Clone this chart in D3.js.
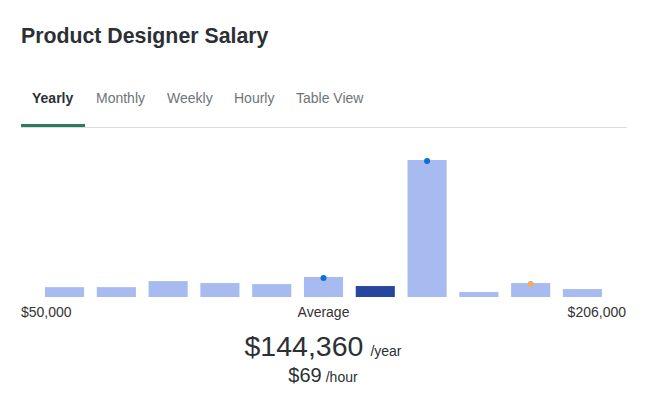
<!DOCTYPE html>
<html>
<head>
<meta charset="utf-8">
<script src="https://cdn.jsdelivr.net/npm/d3@7"></script>
<style>
  body { margin: 0; background: #fff; font-family: "Liberation Sans", Arial, sans-serif; }
</style>
</head>
<body>
<svg id="chart"></svg>
<script>
// salary bins (yearly), share of reports per bin
var bins = ["$50K", "$64K", "$78K", "$93K", "$107K", "$121K", "$135K", "$149K", "$163K", "$178K", "$192K"];
var shares = [3.6, 3.6, 5.8, 5.1, 4.7, 7.3, 4.0, 50, 1.8, 5.1, 2.9];
var avgBin = "$135K";
var markerBins = ["$121K", "$149K", "$178K"];
var markerColors = ["#0a6fd6", "#0a6fd6", "#f4a95b"];
var tabs = ["Yearly", "Monthly", "Weekly", "Hourly", "Table View"];
var tabX = [32, 96, 167, 234, 296];

var width = 651, height = 394;
var svg = d3.select("#chart")
  .attr("width", width)
  .attr("height", height);

svg.append("text")
  .attr("x", 21).attr("y", 43)
  .attr("font-size", 21.3).attr("font-weight", "bold")
  .attr("fill", "#2b3035")
  .text("Product Designer Salary");

// tabs
svg.selectAll(".tab")
  .data(tabs)
  .join("text")
    .attr("class", "tab")
    .attr("x", (d, i) => tabX[i]).attr("y", 103)
    .attr("font-size", 14)
    .attr("font-weight", (d, i) => i == 0 ? "bold" : "normal")
    .attr("fill", (d, i) => i == 0 ? "#2b3035" : "#6f7479")
    .text(d => d);

svg.append("line")
  .attr("x1", 21).attr("x2", 627).attr("y1", 127.5).attr("y2", 127.5)
  .attr("stroke", "#dcdcdc").attr("stroke-width", 1);
svg.append("rect")
  .attr("x", 21).attr("y", 124).attr("width", 64).attr("height", 3)
  .attr("fill", "#2d7a5e");

var x = d3.scaleBand()
  .domain(bins)
  .range([45, 602])
  .paddingInner(0.245)
  .paddingOuter(0);

var y = d3.scaleLinear()
  .domain([0, 50])
  .range([297, 160]);

svg.append("g")
  .selectAll("rect")
  .data(bins)
  .join("rect")
    .attr("x", d => x(d))
    .attr("y", (d, i) => y(shares[i]))
    .attr("width", x.bandwidth())
    .attr("height", (d, i) => y(0) - y(shares[i]))
    .attr("fill", d => d == avgBin ? "#27479e" : "#a8bbf0");

svg.append("g")
  .selectAll("circle")
  .data(markerBins)
  .join("circle")
    .attr("cx", d => x(d) + x.bandwidth() / 2)
    .attr("cy", d => y(shares[bins.indexOf(d)]) + 1)
    .attr("r", 3)
    .attr("fill", (d, i) => markerColors[i]);

// axis labels
svg.append("text")
  .attr("x", 21).attr("y", 317)
  .attr("font-size", 14).attr("fill", "#333")
  .text("$50,000");
svg.append("text")
  .attr("x", x("$121K") + x.bandwidth() / 2).attr("y", 317)
  .attr("text-anchor", "middle")
  .attr("font-size", 14).attr("fill", "#333")
  .text("Average");
svg.append("text")
  .attr("x", 626).attr("y", 317)
  .attr("text-anchor", "end")
  .attr("font-size", 14).attr("fill", "#333")
  .text("$206,000");

// average figures
var big = svg.append("text")
  .attr("x", 323).attr("y", 356)
  .attr("text-anchor", "middle")
  .attr("fill", "#2b3035");
big.append("tspan").attr("font-size", 28.5).text("$144,360");
big.append("tspan").attr("font-size", 14).attr("dx", 7).text("/year");

var small = svg.append("text")
  .attr("x", 323).attr("y", 382)
  .attr("text-anchor", "middle")
  .attr("fill", "#2b3035");
small.append("tspan").attr("font-size", 20).text("$69");
small.append("tspan").attr("font-size", 14).attr("dx", 4).text("/hour");
</script>
</body>
</html>
